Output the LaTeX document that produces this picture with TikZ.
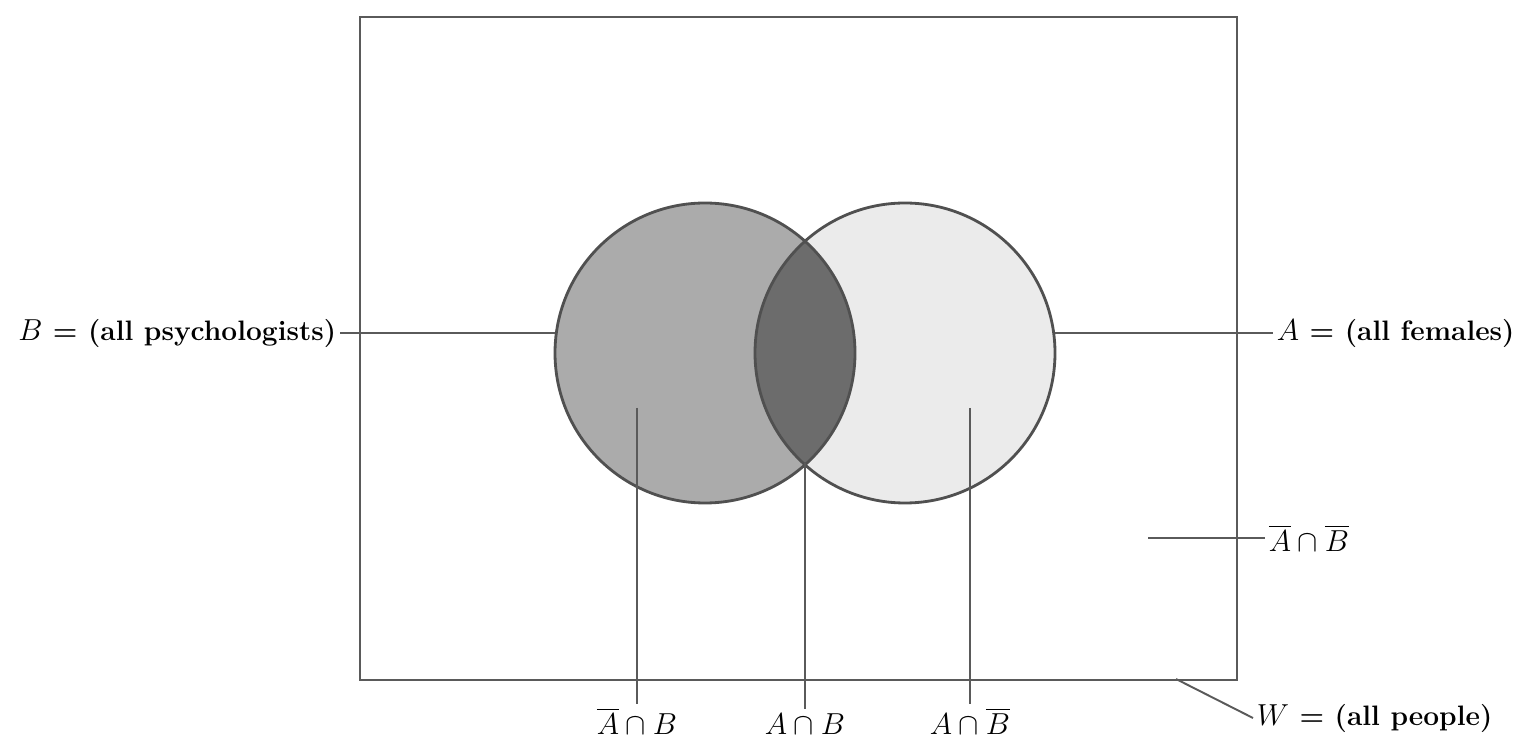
\documentclass[tikz,border=0pt]{standalone}
\usepackage{amsmath,amssymb}
\usepackage{tikz}
\usetikzlibrary{positioning}
\definecolor{VennEdge}{HTML}{505050}
\definecolor{VennMid}{HTML}{ABABAB}
\definecolor{VennDark}{HTML}{6C6C6C}
\definecolor{VennLight}{HTML}{EBEBEB}
\definecolor{VennLine}{HTML}{5A5A5A}
\tikzset{
  lbl/.style={font=\fontsize{16}{19}\selectfont\bfseries,inner sep=2pt},
  lead/.style={VennLine,line width=1.1pt},
}

\begin{document}
\begin{tikzpicture}[x=0.02cm,y=-0.02cm]
  \useasboundingbox (0,0) rectangle (1521,742);
  % universe
  \draw[VennLine,line width=1.3pt] (360,17) rectangle (1237,680);
  % the two sets
  \coordinate (Bc) at (705,353);
  \coordinate (Ac) at (905,353);
  \fill[VennMid] (Bc) circle (150);
  \fill[VennLight] (Ac) circle (150);
  \begin{scope}
    \clip (Bc) circle (150);
    \fill[VennDark] (Ac) circle (150);
  \end{scope}
  \draw[VennEdge,line width=1.6pt] (Bc) circle (150) (Ac) circle (150);
  % labels
  \node[lbl,anchor=east] (psy) at (340,333) {$B$ = (all psychologists)};
  \node[lbl,anchor=west] (fem) at (1273,333) {$A$ = (all females)};
  \node[lbl,anchor=base] (notAB) at (637,734) {$\overline{A}\cap B$};
  \node[lbl,anchor=base] (AB) at (805,734) {$A\cap B$};
  \node[lbl,anchor=base] (AnotB) at (970,734) {$A\cap\overline{B}$};
  \node[lbl,anchor=west] (none) at (1265,538) {$\overline{A}\cap\overline{B}$};
  \node[lbl,anchor=west] (ppl) at (1253,718) {$W$ = (all people)};
  % leader ends
  \coordinate (psyEnd) at (555,333);
  \coordinate (femEnd) at (1055,333);
  \coordinate (notABEnd) at (637,408);
  \coordinate (ABEnd) at (805,463);
  \coordinate (AnotBEnd) at (970,408);
  \coordinate (noneEnd) at (1148,538);
  \coordinate (pplEnd) at (1176,679);
  \draw[lead] (psy.east) -- (psyEnd);
  \draw[lead] (femEnd) -- (fem.west);
  \draw[lead] (notABEnd) -- (notAB.north);
  \draw[lead] (ABEnd) -- (AB.north);
  \draw[lead] (AnotBEnd) -- (AnotB.north);
  \draw[lead] (noneEnd) -- (none.west);
  \draw[lead] (pplEnd) -- (ppl.west);
\end{tikzpicture}
\end{document}
